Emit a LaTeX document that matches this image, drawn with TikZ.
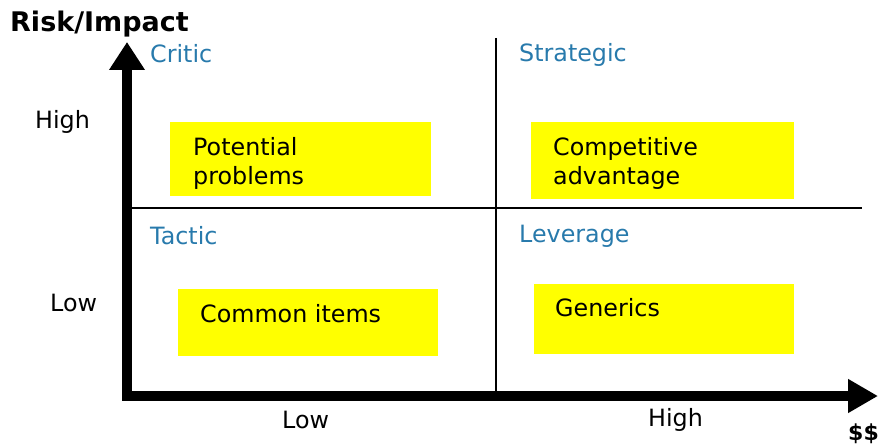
\documentclass[tikz,border=0pt]{standalone}
\usepackage{fontspec}
\setmainfont{DejaVu Sans}
\usetikzlibrary{arrows.meta}
\definecolor{qblue}{RGB}{40,122,172}
\definecolor{byellow}{RGB}{255,255,0}
\tikzset{
  ybox/.style={fill=byellow, draw=none, inner sep=0pt},
  txt/.style={anchor=base west, inner sep=0pt, font=\fontsize{23.8}{29}\selectfont},
  qlabel/.style={txt, text=qblue},
  axis/.style={line width=10pt, line join=miter, {Triangle[length=28pt,width=34pt]}-{Triangle[length=30pt,width=32pt]}},
  divider/.style={line width=2.6pt, black}
}
\begin{document}
\begin{tikzpicture}[x=1pt,y=-1pt]
\useasboundingbox (0,0) rectangle (882,446);
% yellow boxes
\node[ybox, minimum width=261pt, minimum height=74pt] (bpp) at (300.5,159) {};
\node[ybox, minimum width=263pt, minimum height=77pt] (bca) at (662.5,160.5) {};
\node[ybox, minimum width=260pt, minimum height=67pt] (bci) at (308,322.5) {};
\node[ybox, minimum width=260pt, minimum height=70pt] (bge) at (664,319) {};
% dividers
\coordinate (vtop) at (496,38);
\coordinate (vbot) at (496,391);
\coordinate (hl) at (132,208);
\coordinate (hr) at (862,208);
\draw[divider] (vtop) -- (vbot);
\draw[divider] (hl) -- (hr);
% axes
\coordinate (ytip) at (127,42);
\coordinate (origin) at (127,396);
\coordinate (xtip) at (878,396);
\draw[axis] (ytip) -- (origin) -- (xtip);
% titles
\node[anchor=base west, inner sep=0pt, font=\fontsize{27}{30}\selectfont\bfseries] (ttl) at (10,32) {Risk/Impact};
\node[anchor=base west, inner sep=0pt, font=\fontsize{22}{30}\selectfont\bfseries] (dol) at (848,440) {\$\$};
% quadrant labels
\node[qlabel] (critic) at (150,63) {Critic};
\node[qlabel] (strat) at (519,62) {Strategic};
\node[qlabel] (tactic) at (150,244) {Tactic};
\node[qlabel] (lever) at (519,242) {Leverage};
% axis tick labels
\node[txt] (yhigh) at (35,129) {High};
\node[txt] (ylow) at (50,311) {Low};
\node[txt] (xlow) at (282,428) {Low};
\node[txt] (xhigh) at (648,426) {High};
% box texts
\node[txt] (pp1) at (193,156) {Potential};
\node[txt] (pp2) at (193,185) {problems};
\node[txt] (ca1) at (553,156) {Competitive};
\node[txt] (ca2) at (553,185) {advantage};
\node[txt] (ci) at (200,322) {Common items};
\node[txt] (ge) at (555,316) {Generics};
\end{tikzpicture}
\end{document}
